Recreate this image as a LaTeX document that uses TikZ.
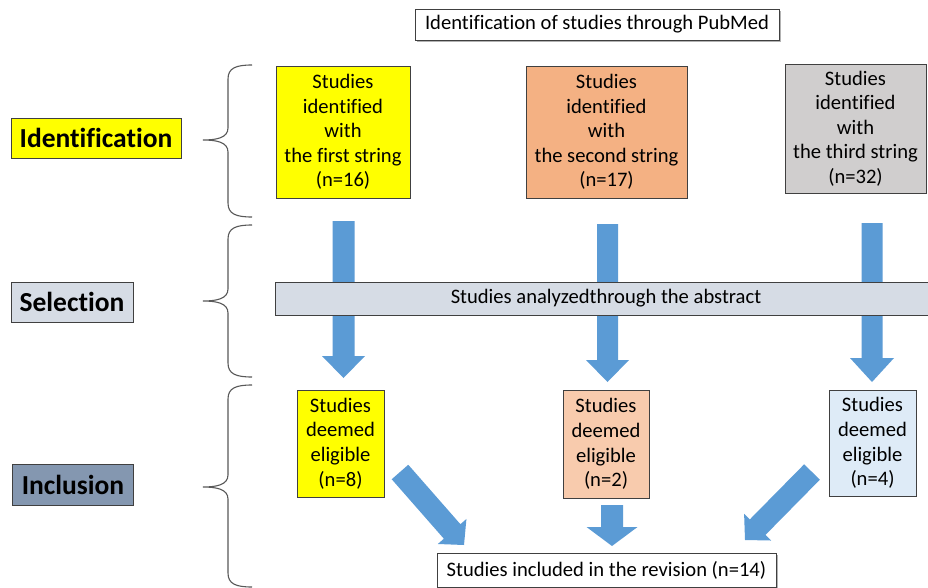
\documentclass[tikz,border=0pt]{standalone}
\usepackage{fontspec}
\setmainfont[Ligatures=NoCommon]{Carlito}
\usetikzlibrary{calc,shadows}
\definecolor{yellowc}{HTML}{FFFF00}
\definecolor{orangec}{HTML}{F4B183}
\definecolor{lorangec}{HTML}{F8CBAD}
\definecolor{greyc}{HTML}{D0CECE}
\definecolor{selc}{HTML}{D6DCE5}
\definecolor{inclc}{HTML}{8497B0}
\definecolor{lbluec}{HTML}{DEEBF7}
\definecolor{arrowc}{HTML}{5B9BD5}
\definecolor{linec}{HTML}{404040}
\definecolor{bracec}{HTML}{595959}
\newcommand{\blockarrow}[5]{%
  \coordinate (bh) at ($(#2)!#5!(#1)$);
  \fill[arrowfill] ($(#1)!#3!90:(#2)$) -- ($(bh)!#3!90:(#2)$) -- ($(bh)!#4!90:(#2)$) -- (#2)
    -- ($(bh)!#4!-90:(#2)$) -- ($(bh)!#3!-90:(#2)$) -- ($(#1)!#3!-90:(#2)$) -- cycle;
}
\newcommand{\curlybrace}[3]{%
  \draw[bracestyle] (252,#1) .. controls (236,#1) and (228,#1+3) .. (228,#1+14)
    -- (228,#2-12) .. controls (228,#2-2) and (216,#2) .. (203,#2)
    .. controls (216,#2) and (228,#2+2) .. (228,#2+12)
    -- (228,#3-14) .. controls (228,#3-3) and (236,#3) .. (252,#3);
}
\begin{document}
\begin{tikzpicture}[x=1pt,y=-1pt,
  box/.style={draw=linec, line width=0.9pt, inner sep=0pt, align=center,
    font=\fontsize{20.6}{24.6}\selectfont},
  lab/.style={draw=linec, line width=0.9pt, inner sep=0pt, align=center,
    font=\fontsize{27.5}{30}\selectfont\bfseries},
  shadowed/.style={drop shadow={shadow xshift=2pt, shadow yshift=-2pt, opacity=0.3, fill=black}},
  arrowfill/.style={fill=arrowc},
  bracestyle/.style={draw=bracec, line width=1.1pt}]
\clip (0,0) rectangle (928,588);
\fill[white] (0,0) rectangle (928,588);

% title
\node[box, shadowed, fill=white, minimum width=364pt, minimum height=31pt] (title) at (597,24.5) {Identification of studies through PubMed};

% stage labels
\node[lab, fill=yellowc, minimum width=170pt, minimum height=40pt] (lid) at (96,138) {Identification};
\node[lab, fill=selc, minimum width=122pt, minimum height=40pt] (lsel) at (72,302) {Selection};
\node[lab, fill=inclc, minimum width=121pt, minimum height=41pt] (linc) at (73,484.5) {Inclusion};

% braces
\curlybrace{65}{140}{217}
\curlybrace{225}{301}{377}
\curlybrace{385}{487}{587}

% identification boxes
\node[box, fill=yellowc, minimum width=134pt, minimum height=132pt] (id1) at (343,132) {Studies\\identified\\with\\the first string\\(n=16)};
\node[box, fill=orangec, minimum width=161pt, minimum height=132pt] (id2) at (606.5,132) {Studies\\identified\\with\\the second string\\(n=17)};
\node[box, fill=greyc, minimum width=141pt, minimum height=129pt] (id3) at (855.5,128.5) {Studies\\identified\\with\\the third string\\(n=32)};

% column arrows
\coordinate (a1s) at (343.5,221);
\coordinate (a1t) at (343.5,378);
\coordinate (a2s) at (607.5,224);
\coordinate (a2t) at (607.5,382);
\coordinate (a3s) at (872,223);
\coordinate (a3t) at (872,382);
\blockarrow{a1s}{a1t}{11pt}{21.5pt}{22pt}
\blockarrow{a2s}{a2t}{10.5pt}{21.5pt}{22pt}
\blockarrow{a3s}{a3t}{10.5pt}{22pt}{24pt}

% selection bar
\node[draw=linec, line width=0.9pt, fill=selc, inner sep=0pt, minimum width=670pt, minimum height=33pt, anchor=west] (bar) at (275,298.5) {};
\node[font=\fontsize{20.6}{24.6}\selectfont, inner sep=0pt] (bartext) at (606,298) {Studies analyzedthrough the abstract};

% inclusion boxes
\node[box, fill=yellowc, minimum width=87pt, minimum height=107pt] (in1) at (340.5,443.5) {Studies\\deemed\\eligible\\(n=8)};
\node[box, fill=lorangec, minimum width=86pt, minimum height=108pt] (in2) at (606,444) {Studies\\deemed\\eligible\\(n=2)};
\node[box, fill=lbluec, minimum width=87pt, minimum height=106pt] (in3) at (872.5,443) {Studies\\deemed\\eligible\\(n=4)};

% final box
\node[box, shadowed, fill=white, minimum width=339pt, minimum height=34pt] (final) at (606.5,570) {Studies included in the revision (n=14)};

% bottom arrows
\coordinate (b1s) at (400,472);
\coordinate (b1t) at (464,545);
\coordinate (b2s) at (612,505);
\coordinate (b2t) at (612,546);
\coordinate (b3s) at (812,472);
\coordinate (b3t) at (745,540);
\blockarrow{b1s}{b1t}{11pt}{19pt}{18pt}
\blockarrow{b2s}{b2t}{11pt}{25.5pt}{19pt}
\blockarrow{b3s}{b3t}{11pt}{19pt}{18pt}
\end{tikzpicture}
\end{document}
